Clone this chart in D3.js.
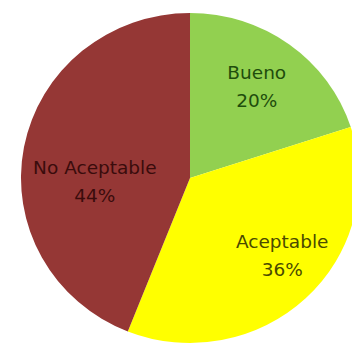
<!DOCTYPE html>
<html>
<head>
<meta charset="utf-8">
<script src="https://cdn.jsdelivr.net/npm/d3@7"></script>
<style>
  body { margin: 0; background: #fff; overflow: hidden; }
</style>
</head>
<body>
<svg id="main-svg" width="352" height="344"></svg>
<script>
'use strict';

const categories = ['Bueno', 'Aceptable', 'No Aceptable'];
const values = [20, 36, 44];
const fills = ['#92d050', '#ffff00', '#953735'];
const text_colors = ['#1f4d0c', '#4a4a00', '#3a0c0c'];

// label placement tweaks (fraction of radius, angle shift in radians)
const label_r = [0.68, 0.72, 0.57];
const label_shift = [0, -0.12, -0.225];

const cx = 190, cy = 178, radius = 167;

const svg = d3.select('#main-svg');
const g = svg.append('g').attr('transform', `translate(${cx},${cy})`);

const pie = d3.pie().sort(null).value(d => d)(values);
const arc = d3.arc().innerRadius(0).outerRadius(radius);

// the original pie is a little wider than tall
g.append('g')
    .attr('transform', 'scale(1.012,0.988)')
    .selectAll('path')
    .data(pie)
    .enter().append('path')
    .attr('d', arc)
    .attr('fill', (d, i) => fills[i]);

const labels = g.selectAll('text')
    .data(pie)
    .enter().append('text')
    .attr('transform', (d, i) => {
        const a = (d.startAngle + d.endAngle) / 2 + label_shift[i];
        const r = radius * label_r[i];
        return `translate(${r * Math.sin(a)},${-r * Math.cos(a)})`;
    })
    .attr('text-anchor', 'middle')
    .attr('fill', (d, i) => text_colors[i])
    .style('font-family', '"DejaVu Sans", Verdana, sans-serif')
    .style('font-size', '18.5px');

labels.append('tspan')
    .attr('x', 0)
    .attr('y', -7)
    .text((d, i) => categories[i]);

labels.append('tspan')
    .attr('x', 0)
    .attr('y', 21)
    .text(d => d.data + '%');
</script>
</body>
</html>
